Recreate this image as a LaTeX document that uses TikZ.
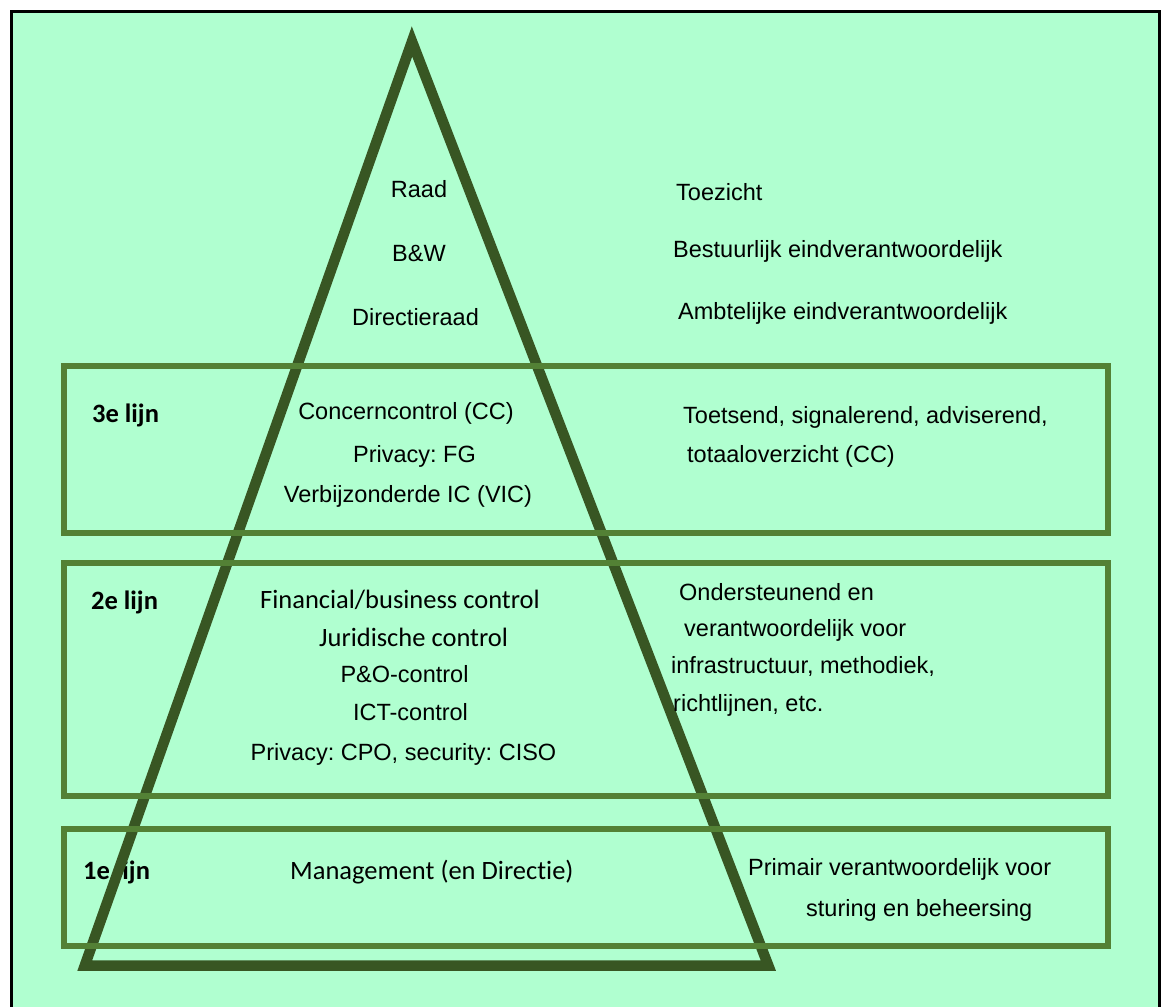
\documentclass[tikz,border=0pt]{standalone}
\usepackage{fontspec}
\setmainfont{Liberation Sans}
\newfontfamily\calfont[Ligatures=NoCommon]{Carlito}
\definecolor{bgmint}{RGB}{176,255,208}
\definecolor{tridark}{RGB}{56,86,35}
\definecolor{boxgreen}{RGB}{83,129,53}
\frenchspacing
\tikzset{
  ar/.style={inner sep=0pt, font=\frenchspacing\fontsize{23.5}{28}\selectfont},
  cb/.style={inner sep=0pt, font=\frenchspacing\calfont\fontsize{26.5}{32}\selectfont},
  lbl/.style={inner sep=0pt, font=\calfont\bfseries\fontsize{26.5}{32}\selectfont, anchor=base west},
  linebox/.style={draw=boxgreen, line width=6pt},
  pyramid/.style={draw=tridark, line width=10.5pt, line join=miter}
}
\begin{document}
\begin{tikzpicture}[x=1pt,y=-1pt]
\useasboundingbox (0,0) rectangle (1161,1006);
\begin{scope}
\clip (0,0) rectangle (1161,1006);
\fill[white] (0,0) rectangle (1161,1006);
\filldraw[fill=bgmint, draw=black, line width=3pt] (11,11.5) rectangle (1159.5,1020);
\end{scope}

% label overlapped by the triangle
\node[lbl] (l1) at (83,879) {1e lijn};

% pyramid
\coordinate (apex) at (412,41.5);
\coordinate (bl) at (84.8,965.5);
\coordinate (br) at (768.3,965.5);
\draw[pyramid] (apex) -- (bl) -- (br) -- cycle;

% boxes
\draw[linebox] (63.7,366) rectangle (1107.7,533);
\draw[linebox] (63.7,562.5) rectangle (1107.7,796);
\draw[linebox] (63.7,829) rectangle (1107.7,946);

% top section
\node[ar, anchor=base] (raad) at (419,197) {Raad};
\node[ar, anchor=base] (bw) at (419,261) {B\&W};
\node[ar, anchor=base] (dr) at (415.5,325) {Directieraad};
\node[ar, anchor=base west] (toez) at (676,200) {Toezicht};
\node[ar, anchor=base west] (best) at (673,257) {Bestuurlijk eindverantwoordelijk};
\node[ar, anchor=base west] (ambt) at (678,319) {Ambtelijke eindverantwoordelijk};

% 3e lijn
\node[lbl] (l3) at (92,422) {3e lijn};
\node[ar, anchor=base] (cc) at (406,419) {Concerncontrol (CC)};
\node[ar, anchor=base] (fg) at (414.5,462) {Privacy: FG};
\node[ar, anchor=base] (vic) at (408,502) {Verbijzonderde IC (VIC)};
\node[ar, anchor=base west] (toets) at (683,423) {Toetsend, signalerend, adviserend,};
\node[ar, anchor=base west] (totaal) at (687,462) {totaaloverzicht (CC)};

% 2e lijn
\node[lbl] (l2) at (91,609) {2e lijn};
\node[cb, anchor=base west] (fin) at (260,608) {Financial/business control};
\node[cb, anchor=base west] (jur) at (319,646) {Juridische control};
\node[ar, anchor=base] (po) at (404.5,682) {P\&O-control};
\node[ar, anchor=base] (ict) at (410.5,720) {ICT-control};
\node[ar, anchor=base] (cpo) at (403.5,760) {Privacy: CPO, security: CISO};
\node[ar, anchor=base west] (onder) at (679,600) {Ondersteunend en};
\node[ar, anchor=base west] (verant) at (684,636) {verantwoordelijk voor};
\node[ar, anchor=base west] (infra) at (671,673) {infrastructuur, methodiek,};
\node[ar, anchor=base west] (richt) at (673,711) {richtlijnen, etc.};

% 1e lijn
\node[cb, anchor=base west] (mgmt) at (290,879) {Management (en Directie)};
\node[ar, anchor=base west] (prim) at (748,875) {Primair verantwoordelijk voor};
\node[ar, anchor=base west] (stur) at (806,916) {sturing en beheersing};
\end{tikzpicture}
\end{document}
